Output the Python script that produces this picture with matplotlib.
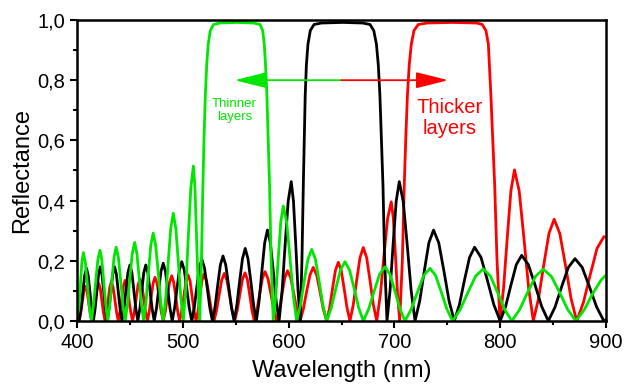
import matplotlib
matplotlib.use('Agg')
import matplotlib.pyplot as plt
from matplotlib.ticker import MultipleLocator, FuncFormatter

plt.rcParams['font.family'] = ['Liberation Sans', 'DejaVu Sans']

# ── data (wavelength nm, reflectance) ───────────────────────────────────────
# one line per side lobe: rise, peak, fall, next zero
black_nm = [400, 402,
            403.75, 405.5, 407.25, 409, 410.6, 412.25, 413.9, 415.5,
            417.1, 418.75, 420.4, 422, 423.6, 425.25, 426.9, 428.5,
            430.25, 432, 433.75, 435.5, 437.25, 439, 440.75, 442.5,
            444.4, 446.25, 448.1, 450, 451.9, 453.75, 455.6, 457.5,
            459.4, 461.25, 463.1, 465, 467, 469, 471, 473,
            475.1, 477.25, 479.4, 481.5, 483.6, 485.75, 487.9, 490,
            492.25, 494.5, 496.75, 499, 501.4, 503.75, 506.1, 508.5,
            510.9, 513.25, 515.6, 518, 520.5, 523, 525.5, 528,
            530.5, 533, 535.5, 538, 540.6, 543.25, 545.9, 548.5,
            551.1, 553.75, 556.4, 559, 561.6, 564.25, 566.9, 569.5,
            572.1, 574.75, 577.4, 580, 582.75, 585.5, 588.25, 591,
            593.9, 596.75, 599.6, 602.5, 604.6, 606.75, 608.9, 611,
            612.6, 613.9, 614.8, 615.7, 616.8, 618.3, 620.5, 624, 631, 651,
            670, 677, 680.5, 683, 684.8, 686.3, 687.8, 689.2, 690.8, 693,
            695.9, 698.8, 701.7, 704.6, 708.3, 712.05, 715.8, 719.5,
            723.9, 728.25, 732.6, 737, 741.9, 746.8, 751.7, 756.6,
            761.4, 766.2, 771, 775.8, 781.9, 787.9, 794, 800,
            805.1, 810.2, 815.2, 820.3, 826.6, 832.9, 839.2, 845.5,
            851.8, 858.1, 864.4, 870.7, 877.5, 884.3, 891.2, 898, 900]
black_r = [0.03, 0,
           .039, .096, .151, .175, .151, .096, .039, 0,
           .04, .099, .155, .18, .155, .099, .04, 0,
           .04, .099, .155, .18, .155, .099, .04, 0,
           .041, .102, .16, .186, .16, .102, .041, 0,
           .041, .102, .16, .186, .16, .102, .041, 0,
           .042, .106, .165, .192, .165, .106, .042, 0,
           .043, .108, .169, .197, .169, .108, .043, 0,
           .045, .113, .176, .205, .176, .113, .045, 0,
           .048, .119, .186, .216, .186, .119, .048, 0,
           .053, .133, .207, .241, .207, .133, .053, 0,
           .066, .166, .26, .302, .26, .166, .066, 0,
           .102, .255, .398, .463, .398, .255, .102, 0,
           .2, .45, .6, .75, .85, .92, .965, .985, .99, .992,
           .99, .985, .965, .92, .85, .75, .6, .45, .2, 0,
           .102, .255, .398, .463, .398, .255, .102, 0,
           .066, .166, .26, .302, .26, .166, .066, 0,
           .054, .135, .211, .245, .211, .135, .054, 0,
           .048, .12, .187, .218, .187, .12, .048, 0,
           .046, .114, .178, .207, .178, .114, .046, 0, .003]

green_nm = [400,
            401.9, 403.3, 404.6, 406, 407.9, 409.75, 411.6, 413.5,
            415.55, 417.6, 419.65, 421.7, 423.5, 425.35, 427.2, 429,
            431, 433, 435, 437, 439.1, 441.25, 443.4, 445.5,
            447.75, 450, 452.25, 454.5, 456.6, 458.75, 460.9, 463,
            465.25, 467.5, 469.75, 472, 474.4, 476.75, 479.1, 481.5,
            483.9, 486.25, 488.6, 491, 493.4, 495.75, 498.1, 500.5,
            502.9, 505.25, 507.6, 510, 511.5, 513, 514.5, 516,
            517.6, 519, 520, 521.3, 522.6, 524, 526, 529, 535, 551,
            567, 573, 575.5, 577, 578.2, 579.5, 580.8, 582, 583.5, 585.5,
            587.9, 590.25, 592.6, 595, 598.15, 601.3, 604.45, 607.6,
            611.15, 614.7, 618.25, 621.8, 625.35, 628.9, 632.45, 636,
            640.3, 644.65, 649, 653.3, 657.6, 661.95, 666.3, 670.6,
            675.7, 680.85, 686, 691.1, 695.8, 700.55, 705.3, 710,
            715.9, 721.8, 727.7, 733.6, 738.95, 744.3, 749.65, 755,
            762.25, 769.5, 776.75, 784, 790.75, 797.5, 804.25, 811,
            818.4, 825.85, 833.3, 840.7, 848.4, 856.1, 863.8, 871.5,
            879.4, 887.3, 895.2, 900]
green_r = [0.01,
           .05, .125, .195, .227, .195, .125, .05, 0,
           .052, .129, .202, .235, .202, .129, .052, 0,
           .054, .135, .211, .245, .211, .135, .054, 0,
           .057, .144, .224, .261, .224, .144, .057, 0,
           .064, .161, .251, .292, .251, .161, .064, 0,
           .079, .197, .308, .358, .308, .197, .079, 0,
           .113, .283, .443, .515, .443, .283, .113, 0,
           .2, .45, .6, .75, .85, .92, .965, .985, .99, .992,
           .99, .985, .965, .92, .85, .75, .6, .45, .2, 0,
           .084, .21, .329, .382, .329, .21, .084, 0,
           .052, .131, .205, .238, .205, .131, .052, 0,
           .043, .108, .169, .197, .169, .108, .043, 0,
           .04, .099, .155, .18, .155, .099, .04, 0,
           .039, .096, .151, .175, .151, .096, .039, 0,
           .038, .095, .149, .173, .149, .095, .038, 0,
           .038, .095, .148, .172, .148, .095, .038, 0,
           .037, .09, .135, .153]

red_nm = [400, 402,
          403.5, 405, 406.5, 408, 409.5, 411, 412.5, 414,
          415.6, 417.25, 418.9, 420.5, 422, 423.5, 425, 426.5,
          428, 429.5, 431, 432.5, 434.1, 435.75, 437.4, 439,
          440.6, 442.25, 443.9, 445.5, 447.25, 449, 450.75, 452.5,
          454.25, 456, 457.75, 459.5, 461.25, 463, 464.75, 466.5,
          468.3, 470.1, 471.9, 473.7, 475.65, 477.6, 479.55, 481.5,
          483.5, 485.5, 487.5, 489.5, 491.4, 493.25, 495.1, 497,
          499, 501, 503, 505, 506.9, 508.75, 510.6, 512.5,
          514.4, 516.25, 518.1, 520, 522.4, 524.75, 527.1, 529.5,
          531.9, 534.35, 536.8, 539.2, 541.65, 544.1, 546.55, 549,
          551.45, 553.9, 556.35, 558.8, 561, 563.2, 565.4, 567.6,
          570.1, 572.65, 575.2, 577.7, 580.5, 583.25, 586, 588.8,
          591.35, 593.9, 596.45, 599, 601.95, 604.9, 607.85, 610.8,
          613.9, 617.05, 620.2, 623.3, 626.5, 629.65, 632.8, 636,
          638.75, 641.5, 644.25, 647, 649.75, 652.5, 655.25, 658,
          661.15, 664.3, 667.45, 670.6, 673.8, 676.95, 680.1, 683.3,
          686.7, 690.15, 693.6, 697, 699, 701, 703, 705,
          707.5, 709.3, 710.7, 712.3, 714, 716, 718.5, 722.5, 731, 755,
          778, 783, 786.5, 788.8, 789.8, 791.2, 793, 794.8, 797, 799.8,
          803.2, 806.65, 810.1, 813.5, 817.95, 822.4, 826.85, 831.3,
          836.2, 841.15, 846.1, 851, 856.3, 861.65, 867, 872.3,
          878.7, 885.1, 891.5, 898, 900]
red_r = [0.04, 0,
         .025, .063, .099, .115, .099, .063, .025, 0,
         .028, .069, .108, .125, .108, .069, .028, 0,
         .029, .072, .112, .13, .112, .072, .029, 0,
         .03, .074, .116, .135, .116, .074, .03, 0,
         .031, .077, .12, .14, .12, .077, .031, 0,
         .032, .08, .125, .145, .125, .08, .032, 0,
         .033, .083, .129, .15, .129, .083, .033, 0,
         .034, .084, .132, .153, .132, .084, .034, 0,
         .034, .086, .134, .156, .134, .086, .034, 0,
         .035, .087, .136, .158, .136, .087, .035, 0,
         .035, .088, .138, .16, .138, .088, .035, 0,
         .036, .09, .141, .164, .141, .09, .036, 0,
         .037, .092, .144, .167, .144, .092, .037, 0,
         .039, .098, .153, .178, .153, .098, .039, 0,
         .043, .107, .168, .195, .168, .107, .043, 0,
         .054, .134, .21, .244, .21, .134, .054, 0,
         .087, .218, .341, .396, .341, .218, .087, 0,
         .2, .45, .6, .75, .85, .92, .965, .985, .99, .992,
         .99, .985, .965, .92, .85, .75, .6, .45, .2, 0,
         .11, .276, .432, .502, .432, .276, .11, 0,
         .074, .186, .291, .338, .291, .186, .074, 0,
         .062, .154, .241, .28, .278]

GREEN = '#00e600'
RED = '#ff0000'

# arrow showing the shift of the stop band
arrow_y = 0.8
arrow_mid = 650
arrow_left = 549
arrow_right = 751

fig = plt.figure(figsize=(6.25, 3.9), dpi=100)
ax = fig.add_axes([0.1232, 0.177, 0.8464, 0.7717])

ax.plot(red_nm, red_r, color=RED, lw=2.0)
ax.plot(black_nm, black_r, color='black', lw=2.0)
ax.plot(green_nm, green_r, color=GREEN, lw=2.0)

head = '-|>,head_length=2.0,head_width=0.5'
ax.annotate('', xy=(arrow_left, arrow_y), xytext=(arrow_mid, arrow_y),
            arrowprops=dict(arrowstyle=head, color=GREEN, lw=1.3,
                            mutation_scale=10, shrinkA=0, shrinkB=0))
ax.annotate('', xy=(arrow_right, arrow_y), xytext=(arrow_mid, arrow_y),
            arrowprops=dict(arrowstyle=head, color=RED, lw=1.3,
                            mutation_scale=10, shrinkA=0, shrinkB=0))

ax.text(549, 0.70, 'Thinner\nlayers', color=GREEN, fontsize=9.5,
        ha='center', va='center', multialignment='center', linespacing=1.15)
ax.text(752.5, 0.675, 'Thicker\nlayers', color=RED, fontsize=14.5,
        ha='center', va='center', multialignment='center', linespacing=1.15)

ax.set_xlim(400, 900)
ax.set_ylim(0, 1.0)
ax.xaxis.set_major_locator(MultipleLocator(100))
ax.xaxis.set_minor_locator(MultipleLocator(50))
ax.yaxis.set_major_locator(MultipleLocator(0.2))
ax.yaxis.set_minor_locator(MultipleLocator(0.1))
ax.yaxis.set_major_formatter(FuncFormatter(lambda v, p: f'{v:.1f}'.replace('.', ',')))
ax.tick_params(which='major', direction='out', length=5, width=1.5, labelsize=14.5)
ax.tick_params(which='minor', direction='out', length=3, width=1.5)
for s in ax.spines.values():
    s.set_linewidth(1.8)

ax.set_xlabel('Wavelength (nm)', fontsize=17, labelpad=6)
ax.set_ylabel('Reflectance', fontsize=17, labelpad=3)

fig.savefig('out.png', dpi=100)
